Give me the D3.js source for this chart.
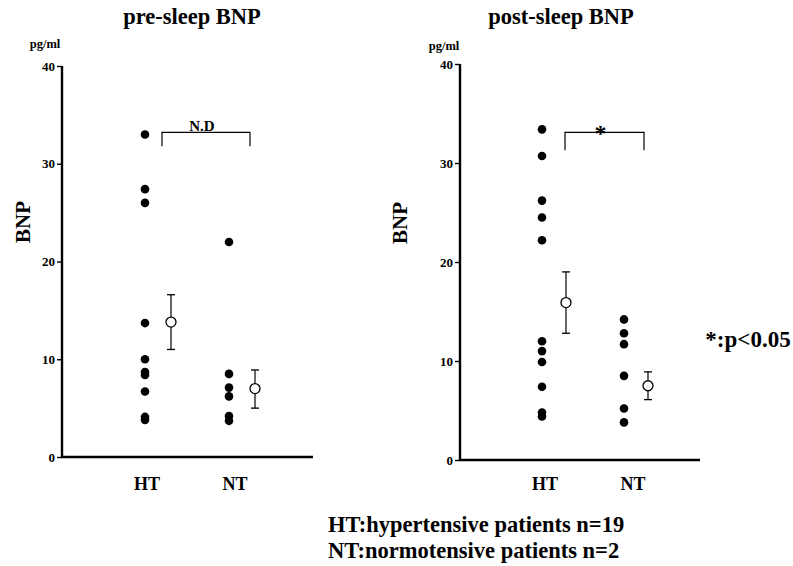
<!DOCTYPE html>
<html>
<head>
<meta charset="utf-8">
<script src="https://cdn.jsdelivr.net/npm/d3@7"></script>
<style>
  html, body { margin: 0; padding: 0; background: #fff; }
  svg { display: block; }
  text { font-family: "Liberation Serif", "Times New Roman", serif; font-weight: bold; fill: #000; }
</style>
</head>
<body>
<svg id="chart" width="793" height="566"></svg>
<script>
// ---- data ----
const categories = ["HT", "NT"];
const yTicks = [0, 10, 20, 30, 40];
const panelTitles = ["pre-sleep BNP", "post-sleep BNP"];
const significance = ["N.D", "*"];

const preHT = [33.0, 27.4, 26.0, 13.7, 10.0, 8.7, 8.4, 6.7, 4.1, 3.8];
const preNT = [22.0, 8.5, 7.1, 6.2, 4.2, 3.7];
const preMean = [13.8, 7.0];
const preLow = [11.0, 5.0];
const preHigh = [16.6, 8.9];

const postHT = [33.4, 30.7, 26.2, 24.5, 22.2, 12.0, 11.0, 9.9, 7.4, 4.8, 4.4];
const postNT = [14.2, 12.8, 11.7, 8.5, 5.2, 3.8];
const postMean = [15.9, 7.5];
const postLow = [12.8, 6.1];
const postHigh = [19.0, 8.9];

const bracketTop = [33.2, 33.1];
const bracketLeg = [31.8, 31.3];

const footnotes = ["HT:hypertensive patients n=19", "NT:normotensive patients n=2"];
const pNote = "*:p<0.05";

// ---- layout ----
const panels = [
  { title: panelTitles[0], sig: significance[0], dots: [preHT, preNT], mean: preMean, low: preLow, high: preHigh,
    axisX: 62, yTop: 66, yBottom: 457, xEnd: 313, catX: [145, 229], meanOff: 26, labelX: [147, 235],
    bracketX: [162, 250], titleX: 192, bnpX: 23, bnpY: 222, pgX: 45, pgY: 48, bIdx: 0 },
  { title: panelTitles[1], sig: significance[1], dots: [postHT, postNT], mean: postMean, low: postLow, high: postHigh,
    axisX: 460, yTop: 64, yBottom: 460, xEnd: 700, catX: [542, 624], meanOff: 24, labelX: [545, 633],
    bracketX: [565, 644], titleX: 561, bnpX: 400, bnpY: 223, pgX: 444, pgY: 50, bIdx: 1 }
];

const svg = d3.select("#chart");

panels.forEach(p => {
  const g = svg.append("g");
  const y = d3.scaleLinear().domain([0, 40]).range([p.yBottom, p.yTop]);
  const x = d3.scaleOrdinal().domain(categories).range(p.catX);
  const xl = d3.scaleOrdinal().domain(categories).range(p.labelX);

  // title
  g.append("text").attr("x", p.titleX).attr("y", 24).attr("text-anchor", "middle")
    .style("font-size", "22.5px").text(p.title);

  // y axis
  const yAxis = d3.axisLeft(y).tickValues(yTicks).tickSize(5).tickPadding(2).tickFormat(d3.format("d"));
  const ga = g.append("g").attr("transform", `translate(${p.axisX},0)`).call(yAxis);
  ga.attr("font-family", null);
  ga.select(".domain").attr("stroke", "#000").attr("stroke-width", 2.4).attr("d", `M0,${p.yTop}V${p.yBottom}`);
  ga.selectAll(".tick line").attr("stroke", "#000").attr("stroke-width", 1.4);
  ga.selectAll(".tick text").style("font-size", "13px").style("font-family", "'Liberation Serif', serif")
    .style("font-weight", "bold").attr("fill", "#000");

  // x axis baseline
  g.append("line").attr("x1", p.axisX - 1).attr("x2", p.xEnd).attr("y1", y(0)).attr("y2", y(0))
    .attr("stroke", "#000").attr("stroke-width", 2.4);

  // unit and axis title
  g.append("text").attr("x", p.pgX).attr("y", p.pgY).attr("text-anchor", "middle")
    .style("font-size", "12.5px").text("pg/ml");
  g.append("text").attr("transform", `translate(${p.bnpX + 7},${p.bnpY}) rotate(-90)`)
    .attr("text-anchor", "middle").style("font-size", "21px").text("BNP");

  // category labels
  categories.forEach(c => {
    g.append("text").attr("x", xl(c)).attr("y", 490).attr("text-anchor", "middle")
      .style("font-size", "18px").text(c);
  });

  // dots
  categories.forEach((c, i) => {
    g.selectAll(null).data(p.dots[i]).enter().append("circle")
      .attr("cx", x(c)).attr("cy", d => y(d)).attr("r", 4.3).attr("fill", "#000");
  });

  // mean +- error bars
  categories.forEach((c, i) => {
    const mx = x(c) + p.meanOff;
    g.append("line").attr("x1", mx).attr("x2", mx).attr("y1", y(p.high[i])).attr("y2", y(p.low[i]))
      .attr("stroke", "#000").attr("stroke-width", 1.2);
    [p.high[i], p.low[i]].forEach(v => {
      g.append("line").attr("x1", mx - 4).attr("x2", mx + 4).attr("y1", y(v)).attr("y2", y(v))
        .attr("stroke", "#000").attr("stroke-width", 1.3);
    });
    g.append("circle").attr("cx", mx).attr("cy", y(p.mean[i])).attr("r", 5)
      .attr("fill", "#fff").attr("stroke", "#000").attr("stroke-width", 1.3);
  });

  // significance bracket
  const bt = y(bracketTop[p.bIdx]), bl = y(bracketLeg[p.bIdx]);
  g.append("path")
    .attr("d", `M${p.bracketX[0]},${bl}V${bt}H${p.bracketX[1]}V${bl}`)
    .attr("fill", "none").attr("stroke", "#000").attr("stroke-width", 1.2);
  g.append("text").attr("x", (p.bracketX[0] + p.bracketX[1]) / 2 - 4)
    .attr("y", bt + (p.bIdx === 1 ? 9 : -1)).attr("text-anchor", "middle")
    .style("font-size", p.bIdx === 1 ? "24px" : "15px").text(p.sig);
});

// notes
svg.append("text").attr("x", 748).attr("y", 347).attr("text-anchor", "middle")
  .style("font-size", "23px").text(pNote);
footnotes.forEach((t, i) => {
  svg.append("text").attr("x", 328).attr("y", 532 + i * 26).style("font-size", "22.5px").text(t);
});
</script>
</body>
</html>
